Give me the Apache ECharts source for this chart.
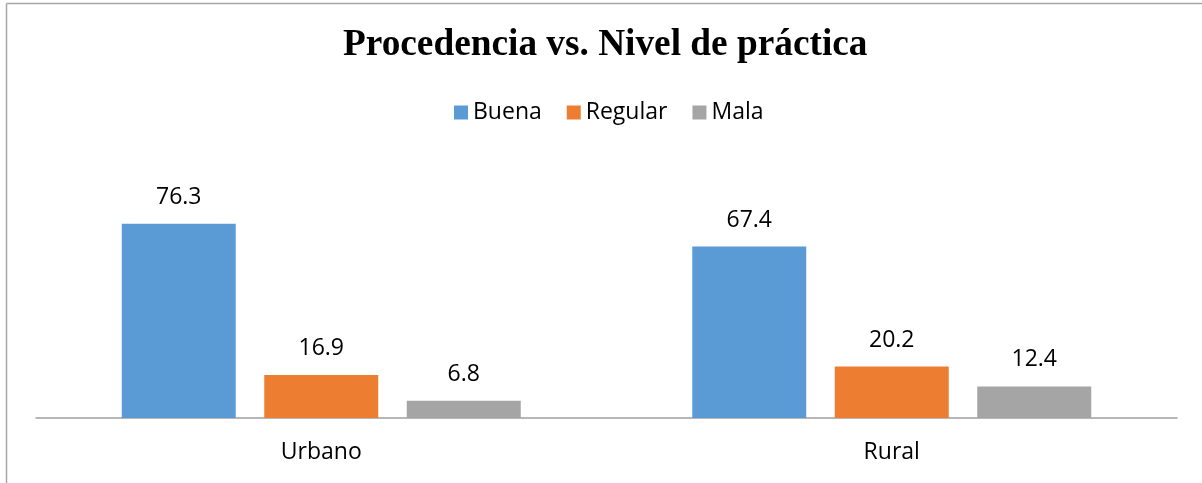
<!DOCTYPE html>
<html>
<head>
<meta charset="utf-8">
<script src="https://cdn.jsdelivr.net/npm/echarts@6/dist/echarts.min.js"></script>
<style>
  html, body { margin: 0; padding: 0; background: #ffffff; overflow: hidden; }
  #chart { width: 1202px; height: 483px; }
</style>
</head>
<body>
<div id="chart"></div>
<script>
// Procedencia vs. nivel de práctica (%)
const categories = ['Urbano', 'Rural'];
const seriesNames = ['Buena', 'Regular', 'Mala'];
const buena = [76.3, 67.4];
const regular = [16.9, 20.2];
const mala = [6.8, 12.4];

const colors = ['#5B9BD5', '#ED7D31', '#A5A5A5'];
const values = [buena, regular, mala];
const labelFont = '"Open Sans", "Noto Sans", sans-serif';

const chart = echarts.init(document.getElementById('chart'), null, { renderer: 'canvas' });

chart.setOption({
  backgroundColor: '#ffffff',
  animation: false,
  title: {
    text: 'Procedencia vs. Nivel de práctica',
    left: 343,
    top: 27,
    padding: 0,
    textStyle: {
      fontFamily: '"Liberation Serif", "Times New Roman", serif',
      fontWeight: 'bold',
      fontSize: 37.3,
      color: '#000000'
    }
  },
  legend: {
    data: seriesNames,
    left: 449,
    top: 96,
    itemWidth: 14,
    itemHeight: 14,
    itemGap: 25,
    icon: 'rect',
    textStyle: { fontFamily: labelFont, fontSize: 23, color: '#000000' }
  },
  graphic: [
    { type: 'line', shape: { x1: 6.5, y1: 3.5, x2: 6.5, y2: 483 }, style: { stroke: '#a6a6a6', lineWidth: 1.5 } },
    { type: 'line', shape: { x1: 6.5, y1: 3.5, x2: 1202, y2: 3.5 }, style: { stroke: '#a6a6a6', lineWidth: 1.5 } }
  ],
  grid: { left: 36, right: 25, top: 189, bottom: 65, containLabel: false },
  xAxis: {
    type: 'category',
    data: categories,
    axisLine: { lineStyle: { color: '#a0a0a0', width: 1.5 } },
    axisTick: { show: false },
    axisLabel: { fontFamily: labelFont, fontSize: 23, color: '#000000', margin: 23 }
  },
  yAxis: {
    type: 'value',
    min: 0,
    max: 90,
    show: false,
    splitLine: { show: false }
  },
  series: seriesNames.map((name, i) => ({
    name,
    type: 'bar',
    data: values[i],
    barWidth: 114,
    barGap: '25%',
    itemStyle: { color: colors[i] },
    label: {
      show: true,
      position: 'top',
      distance: 15,
      fontFamily: labelFont,
      fontSize: 23,
      color: '#000000',
      formatter: p => p.value.toFixed(1)
    }
  }))
});
</script>
</body>
</html>
